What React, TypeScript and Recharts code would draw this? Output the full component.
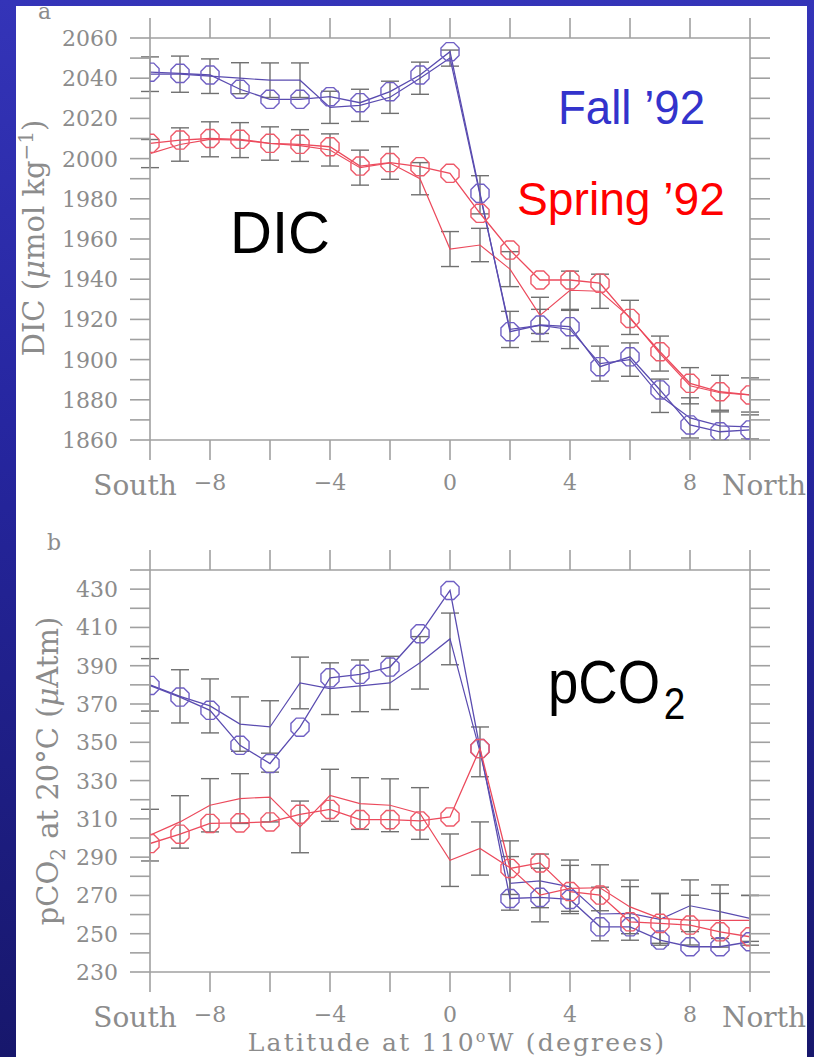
import React from 'react';
import { LineChart, Line, XAxis, YAxis, ErrorBar } from 'recharts';

// ---------- data ----------
const latitudes = [-10, -9, -8, -7, -6, -5, -4, -3, -2, -1, 0, 1, 2, 3, 4, 5, 6, 7, 8, 9, 10];
const latTicks = [-10, -8, -6, -4, -2, 0, 2, 4, 6, 8, 10];
const latLabels = [-8, -4, 0, 4, 8];
const southLabel = 'South';
const northLabel = 'North';

const dicTicks = [1860, 1870, 1880, 1890, 1900, 1910, 1920, 1930, 1940, 1950, 1960, 1970, 1980, 1990, 2000, 2010, 2020, 2030, 2040, 2050, 2060];
const dicLabels = [1860, 1880, 1900, 1920, 1940, 1960, 1980, 2000, 2020, 2040, 2060];
const pco2Ticks = [230, 240, 250, 260, 270, 280, 290, 300, 310, 320, 330, 340, 350, 360, 370, 380, 390, 400, 410, 420, 430, 440];
const pco2Labels = [230, 250, 270, 290, 310, 330, 350, 370, 390, 410, 430];

// DIC (umol/kg)
const dicFallMarked = [2043, 2042.4, 2041.6, 2034.5, 2029.5, 2029.5, 2030.8, 2027.8, 2033.3, 2041.6, 2053.2, 1982.7, 1913.9, 1917.2, 1916.4, 1896.5, 1901.4, 1884.9, 1867.5, 1864.1, 1865];
const dicFallMean = [2042, 2042, 2041, 2040, 2039, 2039, 2025.5, 2026.5, 2030.5, 2040, 2050, 1982, 1915, 1917, 1915, 1898, 1900, 1882, 1871, 1867, 1866.5];
const dicFallErr = [8.6, 9, 8.6, 7.7, 8.6, 8.6, 8, 8, 8, 8, 4, 9.5, 9, 8, 9.5, 8.7, 8.3, 8.3, 10, 7, 6];
const dicSpringMarked = [2007.6, 2009.2, 2010, 2009.6, 2007.6, 2007.1, 2005.9, 1996.3, 1998, 1996, 1992.7, 1972.8, 1954.5, 1939.6, 1939.6, 1938, 1920.5, 1903.9, 1888.2, 1884, 1882.4];
const dicSpringMean = [2002.5, 2007, 2009.6, 2009.2, 2007.5, 2006.5, 2004.3, 1995.5, 1997.8, 1990, 1955, 1957, 1945, 1922, 1934.5, 1934, 1921, 1903, 1887, 1883.5, 1882.4];
const dicSpringErr = [7, 8.3, 8.7, 8.7, 8.3, 7.9, 8, 8.7, 8.1, 8, 8.7, 8.3, 8.7, 9, 9.5, 8.5, 8.5, 8.7, 9, 8.7, 8.5];

// pCO2 at 20C (uAtm)
const pco2FallMarked = [379.7, 373.6, 366.7, 348.4, 338.9, 357.9, 383.7, 385.5, 389.3, 406.7, 429.3, 346.7, 268.4, 269, 267.9, 253.6, 253.6, 246.7, 243.2, 243.2, 245.8];
const pco2FallMean = [380, 374, 369, 359.5, 358, 381, 378, 379.5, 381, 391.5, 404, 345, 276.3, 277.6, 274.5, 260.3, 260.6, 257.5, 264.6, 261.5, 258];
const pco2FallErr = [13.7, 13.9, 14.1, 14.2, 13.7, 13.5, 13.5, 13.5, 13.9, 13.7, 13.5, 13, 14, 14, 14, 14, 14, 13.5, 13.5, 14, 12];
const pco2SpringMarked = [297.1, 302, 307.6, 307.9, 308.4, 312.4, 314.9, 309.6, 309.6, 308.9, 311, 346.7, 284.1, 287, 272, 270.2, 256.2, 255.4, 254.5, 251, 248.4];
const pco2SpringMean = [301.5, 308.4, 317.1, 320.6, 321.4, 305.8, 322.3, 318, 317.1, 312.8, 288.4, 294.5, 284.5, 270.2, 273.7, 274, 264, 258, 257.1, 257, 257];
const pco2SpringErr = [13.5, 13.7, 13.9, 13, 13, 13.5, 13.6, 13.5, 13.8, 13.5, 13.7, 13.9, 14, 14, 12, 12, 14, 13, 13, 14, 13];

const dicData = latitudes.map((lat, i) => ({
  lat,
  fallMarked: dicFallMarked[i],
  fallMean: dicFallMean[i],
  fallErr: dicFallErr[i],
  springMarked: dicSpringMarked[i],
  springMean: dicSpringMean[i],
  springErr: dicSpringErr[i],
}));
const pco2Data = latitudes.map((lat, i) => ({
  lat,
  fallMarked: pco2FallMarked[i],
  fallMean: pco2FallMean[i],
  fallErr: pco2FallErr[i],
  springMarked: pco2SpringMarked[i],
  springMean: pco2SpringMean[i],
  springErr: pco2SpringErr[i],
}));

// ---------- styles ----------
const AXIS = '#a0a0a0';
const LABEL = '#8c8c8c';
const ERR = '#707070';
const BLUE = '#5a4cb0';
const BLUE_M = '#7060c4';
const RED = '#ec4a5c';
const RED_M = '#ee5a6a';
const SERIF = '"DejaVu Serif", "Liberation Serif", serif';
const SANS = '"Liberation Sans", Arial, sans-serif';

const Octagon = (props: any) => {
  const { cx, cy, stroke } = props;
  if (cx == null || cy == null) return <g />;
  const r = 9.8;
  const pts: string[] = [];
  for (let k = 0; k < 8; k++) {
    const a = ((22.5 + 45 * k) * Math.PI) / 180;
    pts.push(`${cx + r * Math.cos(a)},${cy + r * Math.sin(a)}`);
  }
  return <polygon points={pts.join(' ')} fill="none" stroke={stroke} strokeWidth={1.4} />;
};

const EmptyTick = () => <g />;

const makeLeftTick = (labels: number[]) => (props: any) => {
  const { x, y, payload } = props;
  if (!labels.includes(payload.value)) return <g />;
  return (
    <text x={x} y={y} dy={8} textAnchor="end" fill={LABEL} fontFamily={SERIF} fontSize={22}>
      {payload.value}
    </text>
  );
};

const BottomTick = (props: any) => {
  const { x, y, payload } = props;
  const v = payload.value;
  if (v === latTicks[0]) {
    return (
      <text x={x - 15} y={y} dy={35} textAnchor="middle" fill={LABEL} fontFamily={SERIF} fontSize={28}>
        {southLabel}
      </text>
    );
  }
  if (v === latTicks[latTicks.length - 1]) {
    return (
      <text x={x + 14} y={y} dy={35} textAnchor="middle" fill={LABEL} fontFamily={SERIF} fontSize={28}>
        {northLabel}
      </text>
    );
  }
  if (!latLabels.includes(v)) return <g />;
  return (
    <text x={x} y={y} dy={30} textAnchor="middle" fill={LABEL} fontFamily={SERIF} fontSize={22}>
      {v < 0 ? `\u2212${Math.abs(v)}` : `${v}`}
    </text>
  );
};

const axisLine = { stroke: AXIS, strokeWidth: 1.6 };

function Panel(props: { data: any[]; yDomain: [number, number]; yTicks: number[]; yLabels: number[]; height: number; margin: any }) {
  const { data, yDomain, yTicks, yLabels, height, margin } = props;
  return (
    <LineChart width={814} height={height} data={data} margin={margin}>
      <XAxis
        xAxisId="top"
        orientation="top"
        dataKey="lat"
        type="number"
        domain={[-10, 10]}
        ticks={latTicks}
        interval={0}
        tickSize={20}
        height={20}
        tick={EmptyTick}
        axisLine={axisLine}
        tickLine={axisLine}
      />
      <XAxis
        xAxisId="bottom"
        orientation="bottom"
        dataKey="lat"
        type="number"
        domain={[-10, 10]}
        allowDataOverflow
        ticks={latTicks}
        interval={0}
        tickSize={20}
        tickMargin={0}
        height={60}
        tick={BottomTick}
        axisLine={axisLine}
        tickLine={axisLine}
      />
      <YAxis
        yAxisId="left"
        type="number"
        domain={yDomain}
        allowDataOverflow
        ticks={yTicks}
        interval={0}
        tickSize={20}
        tickMargin={12}
        width={100}
        tick={makeLeftTick(yLabels)}
        axisLine={axisLine}
        tickLine={axisLine}
      />
      <YAxis
        yAxisId="right"
        orientation="right"
        type="number"
        domain={yDomain}
        allowDataOverflow
        ticks={yTicks}
        interval={0}
        tickSize={20}
        width={30}
        tick={EmptyTick}
        axisLine={axisLine}
        tickLine={axisLine}
      />
      <Line xAxisId="bottom" yAxisId="left" type="linear" dataKey="fallMean" stroke={BLUE} strokeWidth={1.2} dot={false} isAnimationActive={false}>
        <ErrorBar dataKey="fallErr" width={9} stroke={ERR} strokeWidth={1.4} direction="y" isAnimationActive={false} />
      </Line>
      <Line xAxisId="bottom" yAxisId="left" type="linear" dataKey="springMean" stroke={RED} strokeWidth={1.2} dot={false} isAnimationActive={false}>
        <ErrorBar dataKey="springErr" width={9} stroke={ERR} strokeWidth={1.4} direction="y" isAnimationActive={false} />
      </Line>
      <Line xAxisId="bottom" yAxisId="left" type="linear" dataKey="fallMarked" stroke={BLUE} strokeWidth={1.3} dot={<Octagon stroke={BLUE_M} />} isAnimationActive={false} />
      <Line xAxisId="bottom" yAxisId="left" type="linear" dataKey="springMarked" stroke={RED} strokeWidth={1.3} dot={<Octagon stroke={RED_M} />} isAnimationActive={false} />
    </LineChart>
  );
}

export default function App() {
  return (
    <div
      style={{
        position: 'absolute',
        left: 0,
        top: 0,
        width: 814,
        height: 1057,
        overflow: 'hidden',
        background: 'linear-gradient(180deg, #3434b8 0%, #2626a0 40%, #17176c 100%)',
      }}
    >
      <div style={{ position: 'absolute', left: 16, top: 6, width: 791, height: 1051, background: '#ffffff' }} />
      <div style={{ position: 'absolute', left: 0, top: 0 }}>
        <Panel data={dicData} yDomain={[1860, 2060]} yTicks={dicTicks} yLabels={dicLabels} height={510} margin={{ top: 18, right: 34, bottom: 10, left: 50 }} />
      </div>
      <div style={{ position: 'absolute', left: 0, top: 520 }}>
        <Panel data={pco2Data} yDomain={[230, 440]} yTicks={pco2Ticks} yLabels={pco2Labels} height={537} margin={{ top: 30, right: 34, bottom: 25, left: 50 }} />
      </div>
      <svg width={814} height={1057} style={{ position: 'absolute', left: 0, top: 0, pointerEvents: 'none' }}>
        <text x={38} y={19} fill={LABEL} fontFamily={SERIF} fontSize={22}>a</text>
        <text x={47} y={550} fill={LABEL} fontFamily={SERIF} fontSize={22}>b</text>
        <text transform="translate(44,238) rotate(-90)" textAnchor="middle" fill={LABEL} fontFamily={SERIF} fontSize={29}>
          DIC (<tspan fontStyle="italic">μ</tspan>mol kg<tspan dy={-11} fontSize={20}>−1</tspan><tspan dy={11}>)</tspan>
        </text>
        <text transform="translate(58,771) rotate(-90)" textAnchor="middle" fill={LABEL} fontFamily={SERIF} fontSize={29}>
          pCO<tspan dy={7} fontSize={20}>2</tspan><tspan dy={-7}>{' at 20°C ('}</tspan><tspan fontStyle="italic">μ</tspan>Atm)
        </text>
        <text x={457} y={1051} textAnchor="middle" fill={LABEL} fontFamily={SERIF} fontSize={25} letterSpacing={2.2}>
          Latitude at 110<tspan dy={-9} fontSize={16}>o</tspan><tspan dy={9}>W (degrees)</tspan>
        </text>
        <text x={230} y={253} fill="#000" fontFamily={SANS} fontSize={60} textLength={100} lengthAdjust="spacingAndGlyphs">DIC</text>
        <text x={558} y={124} fill="#3333cc" fontFamily={SANS} fontSize={49} textLength={147} lengthAdjust="spacingAndGlyphs">Fall ’92</text>
        <text x={517} y={215} fill="#ff0000" fontFamily={SANS} fontSize={46.5} textLength={208} lengthAdjust="spacingAndGlyphs">Spring ’92</text>
        <text transform="translate(548,703) scale(0.88,1)" fill="#000" fontFamily={SANS} fontSize={62}>
          pCO<tspan dx={4} dy={16} fontSize={44}>2</tspan>
        </text>
      </svg>
    </div>
  );
}
